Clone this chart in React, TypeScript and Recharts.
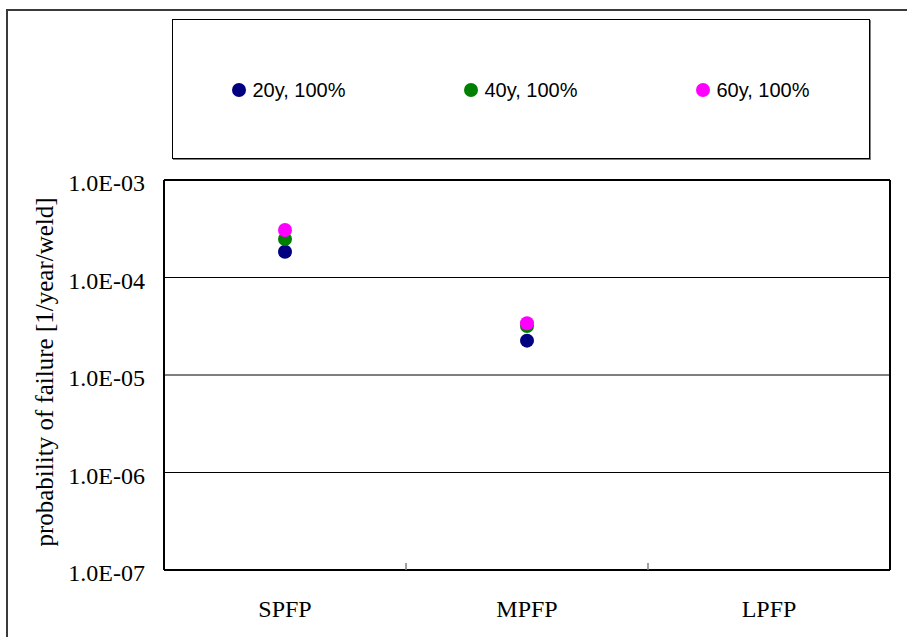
import { ComposedChart, Line, XAxis, YAxis, CartesianGrid, Legend } from "recharts";

// Probability of failure per category, one list per plant age
const categories = ["SPFP", "MPFP", "LPFP"];
const pof20y = [1.84e-4, 2.25e-5, null];
const pof40y = [2.48e-4, 3.18e-5, null];
const pof60y = [3.07e-4, 3.39e-5, null];
const yTicks = [1e-7, 1e-6, 1e-5, 1e-4, 1e-3];

const series = [
  { key: "y20", name: "20y, 100%", color: "#000080" },
  { key: "y40", name: "40y, 100%", color: "#008000" },
  { key: "y60", name: "60y, 100%", color: "#ff00ff" },
];

const data = categories.map((cat, i) => ({
  cat,
  y20: pof20y[i],
  y40: pof40y[i],
  y60: pof60y[i],
}));

const SERIF = '"Liberation Serif", "Times New Roman", serif';
const SANS = '"Liberation Sans", Arial, sans-serif';

// 1e-4 -> "1.0E-04"
const fmtExp = (v: number) => {
  const [m, e] = v.toExponential(1).split("e");
  const n = Number(e);
  return `${m}E${n < 0 ? "-" : "+"}${String(Math.abs(n)).padStart(2, "0")}`;
};

const ValueTick = (props: any) => {
  const { x, y, payload } = props;
  return (
    <text x={x} y={y} dy={11} textAnchor="end" fontFamily={SERIF} fontSize={24} fill="#000">
      {fmtExp(payload.value)}
    </text>
  );
};

// category label plus a small tick mark on the boundary to the next category
const CategoryTick = (props: any) => {
  const { x, y, payload, index, visibleTicksCount } = props;
  const edge = x + (payload.offset ?? 0);
  return (
    <g>
      <text x={x} y={y} dy={47} textAnchor="middle" fontFamily={SERIF} fontSize={24} fill="#000">
        {payload.value}
      </text>
      {index < visibleTicksCount - 1 && (
        <line x1={edge} x2={edge} y1={y} y2={y - 7} stroke="#808080" strokeWidth={1.5} />
      )}
    </g>
  );
};

const YTitle = () => (
  <text
    x={53}
    y={372}
    transform="rotate(-90, 53, 372)"
    textAnchor="middle"
    fontFamily={SERIF}
    fontSize={25}
    fill="#000"
  >
    probability of failure [1/year/weld]
  </text>
);

const LegendBox = ({ payload }: any) => (
  <div
    style={{
      display: "flex",
      justifyContent: "space-around",
      alignItems: "center",
      height: "100%",
      paddingTop: 2,
      boxSizing: "border-box",
    }}
  >
    {(payload || []).map((item: any) => {
      const s = series.find((d) => d.key === item.dataKey);
      return (
        <div key={item.value} style={{ display: "flex", alignItems: "center" }}>
          <svg width={14} height={14}>
            <circle cx={7} cy={7} r={7} fill={s ? s.color : "#000"} />
          </svg>
          <span style={{ marginLeft: 6, fontFamily: SANS, fontSize: 20, color: "#000" }}>
            {item.value}
          </span>
        </div>
      );
    })}
  </div>
);

// top and right edges of the plot area
const frameX = ({ offset }: any) => [offset.left + offset.width];
const frameY = ({ offset }: any) => [offset.top];

export default function App() {
  return (
    <div
      style={{
        position: "fixed",
        left: 0,
        top: 0,
        width: 907,
        height: 637,
        overflow: "hidden",
        background: "#fff",
      }}
    >
      <div
        style={{
          position: "absolute",
          left: 6,
          top: 9,
          width: 1000,
          height: 1000,
          border: "2px solid #3a3a3a",
        }}
      />
      <ComposedChart
        width={907}
        height={637}
        data={data}
        margin={{ top: 180, right: 17, bottom: 0, left: 0 }}
      >
        <CartesianGrid vertical={false} stroke="#000" strokeWidth={1} />
        <CartesianGrid
          stroke="#000"
          strokeWidth={2}
          verticalCoordinatesGenerator={frameX}
          horizontalCoordinatesGenerator={frameY}
        />
        <XAxis
          dataKey="cat"
          scale="band"
          height={67}
          tickLine={false}
          tickSize={0}
          tickMargin={0}
          axisLine={{ stroke: "#000", strokeWidth: 2 }}
          tick={<CategoryTick />}
          interval={0}
        />
        <YAxis
          type="number"
          scale="log"
          domain={[1e-7, 1e-3]}
          ticks={yTicks}
          allowDataOverflow
          width={164}
          tickLine={false}
          tickSize={0}
          tickMargin={19}
          axisLine={{ stroke: "#000", strokeWidth: 2 }}
          tick={<ValueTick />}
          interval={0}
          label={<YTitle />}
        />
        <Legend
          layout="horizontal"
          verticalAlign="middle"
          align="center"
          content={<LegendBox />}
          wrapperStyle={{
            left: 172,
            top: 19,
            width: 698,
            height: 140,
            border: "1px solid #000",
            boxShadow: "1px 1px 0 #808080",
            boxSizing: "border-box",
            background: "#fff",
          }}
        />
        {series.map((s) => (
          <Line
            key={s.key}
            dataKey={s.key}
            name={s.name}
            stroke="none"
            legendType="circle"
            dot={{ r: 7, fill: s.color, stroke: "none" }}
            activeDot={false}
            isAnimationActive={false}
          />
        ))}
      </ComposedChart>
    </div>
  );
}
